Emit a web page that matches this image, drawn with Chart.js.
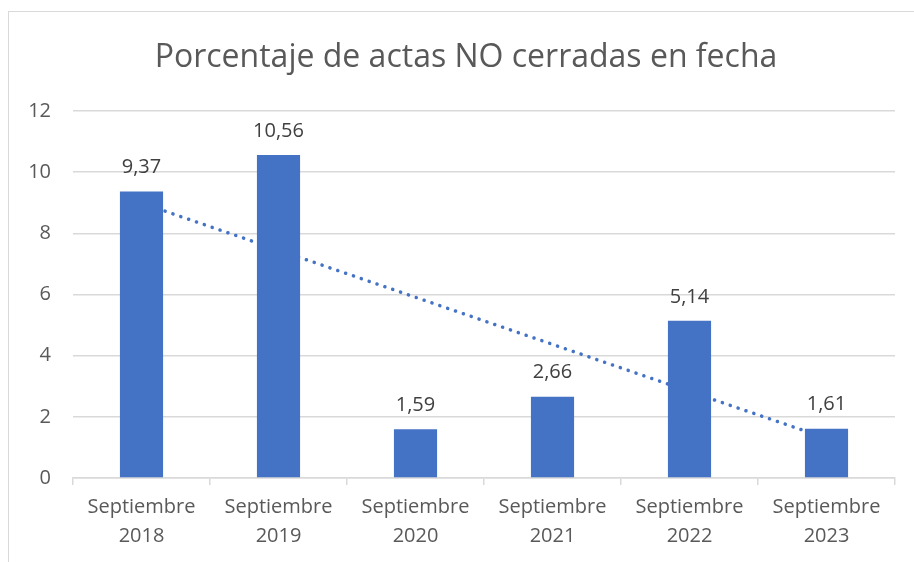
<!DOCTYPE html>
<html>
<head>
<meta charset="utf-8">
<script src="https://cdn.jsdelivr.net/npm/chart.js@4.4.0/dist/chart.umd.min.js"></script>
<style>
  html, body { margin: 0; padding: 0; background: #ffffff; }
  #wrap { position: relative; width: 914px; height: 562px; overflow: hidden; }
  #frame { position: absolute; left: 8px; top: 11px; width: 1000px; height: 1000px;
           border: 1.5px solid #d9d9d9; box-sizing: border-box; }
  #c { position: absolute; left: 0; top: 0; }
</style>
</head>
<body>
<div id="wrap">
  <div id="frame"></div>
  <canvas id="c" width="914" height="562"></canvas>
</div>
<script>
const titleText = "Porcentaje de actas NO cerradas en fecha";
const categories = [
  ["Septiembre", "2018"],
  ["Septiembre", "2019"],
  ["Septiembre", "2020"],
  ["Septiembre", "2021"],
  ["Septiembre", "2022"],
  ["Septiembre", "2023"]
];
const values = [9.37, 10.56, 1.59, 2.66, 5.14, 1.61];
const trendValues = [8.99, 7.45, 5.91, 4.37, 2.83, 1.30];
const yTicks = [0, 2, 4, 6, 8, 10, 12];

const FONT = "'Open Sans', 'Noto Sans', sans-serif";

const titlePlugin = {
  id: 'customTitle',
  afterDraw(chart) {
    const ctx = chart.ctx;
    ctx.save();
    ctx.font = "32px " + FONT;
    ctx.fillStyle = '#595959';
    ctx.textAlign = 'center';
    ctx.textBaseline = 'alphabetic';
    ctx.fillText(titleText, 466, 67);
    ctx.restore();
  }
};

const labelPlugin = {
  id: 'barLabels',
  afterDatasetsDraw(chart) {
    const ctx = chart.ctx;
    const meta = chart.getDatasetMeta(0);
    ctx.save();
    ctx.font = "20px " + FONT;
    ctx.fillStyle = '#404040';
    ctx.textAlign = 'center';
    ctx.textBaseline = 'middle';
    meta.data.forEach((bar, i) => {
      const txt = values[i].toFixed(2).replace('.', ',');
      ctx.fillText(txt, bar.x, bar.y - 24);
    });
    ctx.restore();
  }
};

new Chart(document.getElementById('c'), {
  type: 'bar',
  data: {
    labels: categories,
    datasets: [
      {
        type: 'bar',
        data: values,
        backgroundColor: '#4472C4',
        barPercentage: 0.315,
        categoryPercentage: 1.0,
        order: 0
      },
      {
        type: 'line',
        data: trendValues,
        borderColor: '#4472C4',
        borderWidth: 3.5,
        borderDash: [0.1, 8.2],
        borderCapStyle: 'round',
        pointRadius: 0,
        fill: false,
        tension: 0,
        order: 1
      }
    ]
  },
  options: {
    responsive: false,
    animation: false,
    devicePixelRatio: 1,
    layout: { padding: { top: 111, right: 19, left: 0, bottom: 0 } },
    plugins: {
      legend: { display: false },
      title: { display: false },
      tooltip: { enabled: false }
    },
    scales: {
      x: {
        offset: true,
        grid: {
          display: true,
          drawOnChartArea: false,
          drawTicks: true,
          tickLength: 7,
          color: '#d9d9d9',
          lineWidth: 1.5
        },
        border: { display: true, color: '#d9d9d9', width: 1.5 },
        ticks: {
          color: '#595959',
          font: { family: FONT, size: 20, lineHeight: 1.45 },
          padding: 8,
          maxRotation: 0,
          autoSkip: false
        },
        afterFit(scale) { scale.height = 84; }
      },
      y: {
        min: 0,
        max: 12,
        afterBuildTicks(scale) { scale.ticks = yTicks.map(v => ({ value: v })); },
        grid: { color: '#d9d9d9', lineWidth: 1.5, drawTicks: false },
        border: { display: false },
        ticks: {
          color: '#595959',
          font: { family: FONT, size: 20 },
          padding: 22
        },
        afterFit(scale) { scale.width = 73; }
      }
    }
  },
  plugins: [titlePlugin, labelPlugin]
});
</script>
</body>
</html>
